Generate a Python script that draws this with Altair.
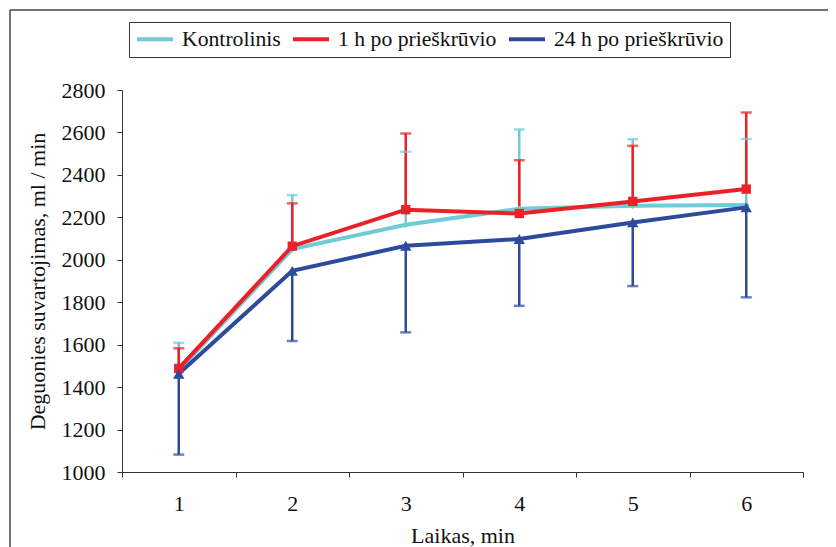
import altair as alt
import pandas as pd

times = [1, 2, 3, 4, 5, 6]
series_names = ["Kontrolinis", "1 h po prieškrūvio", "24 h po prieškrūvio"]

kontrolinis = [1480, 2050, 2165, 2240, 2255, 2258]
kontrolinis_err = [1609, 2305, 2509, 2614, 2568, 2569]

po1h = [1488, 2064, 2236, 2218, 2275, 2333]
po1h_err = [1583, 2266, 2595, 2469, 2537, 2694]

po24h = [1463, 1948, 2066, 2098, 2176, 2247]
po24h_err = [1082, 1617, 1658, 1783, 1876, 1823]

colors = ["#70CBD7", "#ED2027", "#2D4A9C"]
shapes = ["diamond", "square", "triangle-up"]
sizes = [45, 130, 120]

y_ticks = list(range(1000, 2801, 200))

rows = []
for name, vals, ends in zip(series_names, [kontrolinis, po1h, po24h],
                            [kontrolinis_err, po1h_err, po24h_err]):
    for t, v, e in zip(times, vals, ends):
        rows.append({"t": t, "series": name, "v": v, "e": e})
df = pd.DataFrame(rows)

W, H = 681, 382
SERIF = "Liberation Serif"

x_enc = alt.X("t:O",
              scale=alt.Scale(type="band", paddingInner=0, paddingOuter=0),
              axis=alt.Axis(title="Laikas, min", tickBand="extent", labelAngle=0,
                            tickSize=5, labelPadding=16, titlePadding=11,
                            labelFont=SERIF, titleFont=SERIF))
y_enc = alt.Y("v:Q",
              scale=alt.Scale(domain=[1000, 2800], nice=False, zero=False),
              axis=alt.Axis(title="Deguonies suvartojimas, ml / min", values=y_ticks,
                            format="d", grid=False, tickSize=5, labelPadding=12,
                            titlePadding=12, labelFont=SERIF, titleFont=SERIF))
scale_color = alt.Scale(domain=series_names, range=colors)
color_legend = alt.Color("series:N", scale=scale_color,
                         legend=alt.Legend(title=None, orient="none", legendX=7, legendY=-68,
                                           direction="horizontal", symbolType="M-1,0L3,0",
                                           symbolStrokeWidth=4, symbolSize=324,
                                           columnPadding=4, labelOffset=25, labelLimit=400,
                                           strokeColor="#333", fillColor="white",
                                           padding=6, labelFont=SERIF, labelFontSize=21.7))
color_plain = alt.Color("series:N", scale=scale_color, legend=None)

base = alt.Chart(df)
one = alt.Chart(pd.DataFrame({"a": [0]}))

frame_top = one.mark_rule(stroke="#444", strokeWidth=1.5).encode(
    x=alt.value(-112), x2=alt.value(900), y=alt.value(-80))
frame_left = one.mark_rule(stroke="#444", strokeWidth=1.5).encode(
    x=alt.value(-112), y=alt.value(-80), y2=alt.value(700))

err_rule = base.mark_rule(strokeWidth=2.5).encode(x=x_enc, y=y_enc, y2="e:Q", color=color_plain)
err_cap = base.mark_tick(orient="horizontal", size=11, thickness=2.5).encode(
    x=x_enc, y=alt.Y("e:Q"), color=color_plain)
lines = base.mark_line(strokeWidth=4).encode(x=x_enc, y=y_enc, color=color_legend)
points = base.mark_point(filled=True, opacity=1).encode(
    x=x_enc, y=y_enc, color=color_plain,
    shape=alt.Shape("series:N", scale=alt.Scale(domain=series_names, range=shapes), legend=None),
    size=alt.Size("series:N", scale=alt.Scale(domain=series_names, range=sizes), legend=None))

chart = alt.layer(frame_top, frame_left, err_rule, err_cap, lines, points).resolve_scale(
    color="independent"
).properties(
    width=W, height=H,
    padding={"left": 114, "top": 82, "right": 25, "bottom": 76},
    autosize=alt.AutoSizeParams(type="none"),
).configure(font=SERIF).configure_view(stroke=None).configure_axis(
    domainColor="#333", tickColor="#333", labelColor="#111", titleColor="#111",
    labelFontSize=22, titleFontSize=22, titleFontWeight="normal"
).configure_legend(labelFont=SERIF, labelFontSize=21.7, labelColor="#111")

chart.save("out.html", embed_options={"renderer": "svg", "actions": False})
